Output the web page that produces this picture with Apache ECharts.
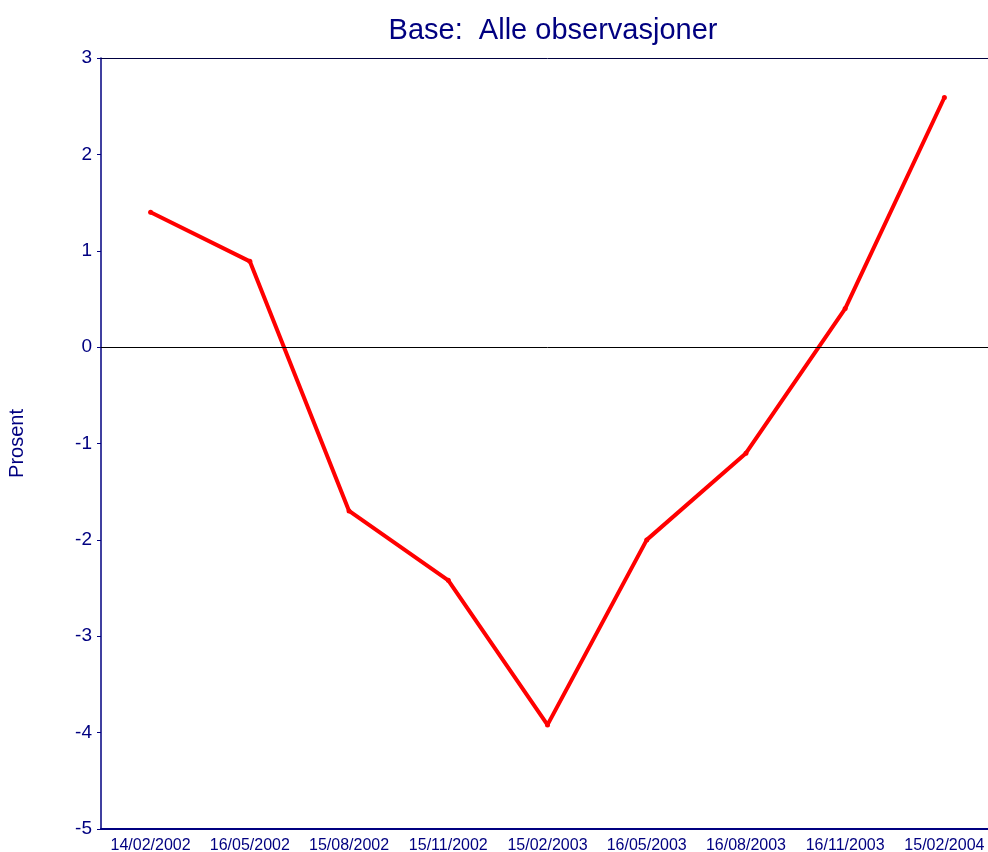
<!DOCTYPE html>
<html>
<head>
<meta charset="utf-8">
<script src="https://cdn.jsdelivr.net/npm/echarts@6/dist/echarts.min.js"></script>
<style>
  html, body { margin: 0; padding: 0; background: #fff; overflow: hidden; }
  #chart { width: 994px; height: 852px; }
</style>
</head>
<body>
<div id="chart"></div>
<script>
var datoer = ['14/02/2002', '16/05/2002', '15/08/2002', '15/11/2002', '15/02/2003',
    '16/05/2003', '16/08/2003', '16/11/2003', '15/02/2004'];
var prosent = [1.4, 0.89, -1.7, -2.42, -3.92, -2.0, -1.1, 0.4, 2.59];

var navy = '#000080';
var myChart = echarts.init(document.getElementById('chart'));

var option = {
    backgroundColor: '#fff',
    animation: false,
    title: {
        text: 'Base:  Alle observasjoner',
        left: 548,
        textAlign: 'center',
        top: 11,
        textStyle: { color: navy, fontSize: 29, fontWeight: 'normal', fontFamily: 'Liberation Sans' }
    },
    grid: { left: 101, right: 0, top: 58, bottom: 23, outerBoundsMode: 'none' },
    xAxis: [{
        type: 'category',
        data: datoer,
        boundaryGap: true,
        axisLine: { onZero: false, lineStyle: { color: navy, width: 2 } },
        axisTick: { alignWithLabel: true, length: 5, lineStyle: { color: navy } },
        axisLabel: { color: navy, fontSize: 16, margin: 9, fontFamily: 'Liberation Sans', interval: 0 },
        splitLine: { show: false }
    }, {
        type: 'category',
        position: 'top',
        data: datoer,
        axisLine: { onZero: false, lineStyle: { color: '#000040', width: 1 } },
        axisTick: { show: false },
        axisLabel: { show: false }
    }],
    yAxis: {
        type: 'value',
        min: -5,
        max: 3,
        interval: 1,
        name: 'Prosent',
        nameLocation: 'middle',
        nameRotate: 90,
        nameGap: 74,
        nameTextStyle: { color: navy, fontSize: 20, fontFamily: 'Liberation Sans' },
        axisLine: { show: true, onZero: false, lineStyle: { color: navy, width: 1.5 } },
        axisTick: { show: true, length: 4, lineStyle: { color: navy } },
        axisLabel: { color: navy, fontSize: 19, margin: 9, fontFamily: 'Liberation Sans' },
        splitLine: { show: false }
    },
    series: [{
        type: 'line',
        data: prosent,
        symbol: 'circle',
        symbolSize: 5,
        itemStyle: { color: '#ff0000' },
        lineStyle: { color: '#ff0000', width: 4 },
        markLine: {
            silent: true,
            symbol: 'none',
            label: { show: false },
            lineStyle: { color: '#000000', width: 1, type: 'solid' },
            data: [{ yAxis: 0 }]
        }
    }]
};

myChart.setOption(option);
</script>
</body>
</html>
